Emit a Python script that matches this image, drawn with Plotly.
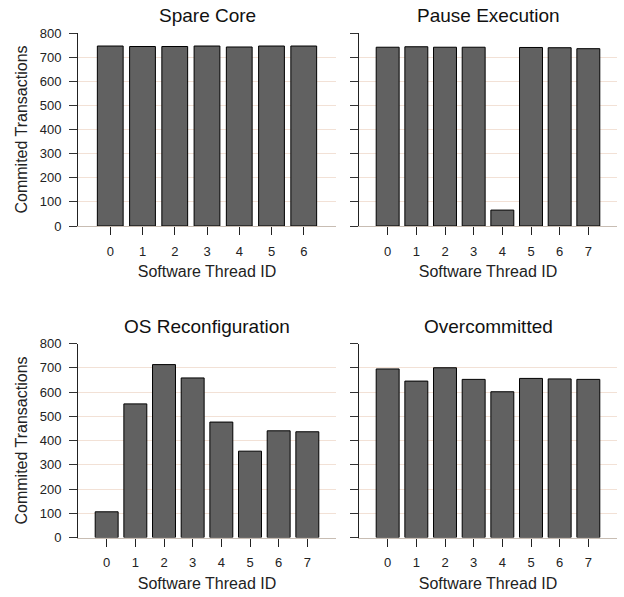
import plotly.graph_objects as go
from plotly.subplots import make_subplots

# ---- data ----
panel_titles = ["Spare Core", "Pause Execution", "OS Reconfiguration", "Overcommitted"]
threads_spare = [0, 1, 2, 3, 4, 5, 6]
threads_eight = [0, 1, 2, 3, 4, 5, 6, 7]
spare_core = [746, 744, 744, 746, 742, 746, 746]
pause_execution = [741, 743, 741, 741, 66, 740, 739, 735]
os_reconfiguration = [106, 551, 713, 658, 476, 356, 440, 436]
overcommitted = [695, 645, 700, 652, 601, 656, 654, 652]
y_ticks = [0, 100, 200, 300, 400, 500, 600, 700, 800]
x_title = "Software Thread ID"
y_title = "Commited Transactions"

FONT = "Liberation Sans, Arial, Helvetica, sans-serif"
BAR_FILL = "#616161"
GRID = "#f2e1d6"
BASE = "#c8bdb3"

W, H = 624, 597


def fx(px):
    return px / W


def fy(py):
    return 1 - py / H


fig = make_subplots(rows=2, cols=2)

series = [
    (threads_spare, spare_core, 1, 1),
    (threads_eight, pause_execution, 1, 2),
    (threads_eight, os_reconfiguration, 2, 1),
    (threads_eight, overcommitted, 2, 2),
]
for xs, ys, r, c in series:
    fig.add_trace(
        go.Bar(x=xs, y=ys, marker=dict(color=BAR_FILL, line=dict(color="black", width=1)),
               showlegend=False, hoverinfo="skip"),
        row=r, col=c,
    )

xdom_left = [fx(78), fx(336)]
xdom_right = [fx(359), fx(617)]
ydom_top = [fy(226), fy(33)]
ydom_bot = [fy(537.5), fy(343.5)]

axes = [
    ("xaxis", "yaxis", xdom_left, ydom_top, [-1, 7], threads_spare, True),
    ("xaxis2", "yaxis2", xdom_right, ydom_top, [-1, 8], threads_eight, False),
    ("xaxis3", "yaxis3", xdom_left, ydom_bot, [-1, 8], threads_eight, True),
    ("xaxis4", "yaxis4", xdom_right, ydom_bot, [-1, 8], threads_eight, False),
]
for xa, ya, xd, yd, xr, xt, show_y in axes:
    fig.layout[xa].update(
        domain=xd, range=xr, tickmode="array", tickvals=xt, ticktext=[str(v) for v in xt],
        showgrid=False, zeroline=False, showline=True, linecolor=BASE, linewidth=1,
        ticks="outside", ticklen=8, tickcolor="#222", tickwidth=1,
        ticklabelstandoff=5,
        tickfont=dict(family=FONT, size=13, color="#222"),
        title=dict(text=x_title, font=dict(family=FONT, size=16, color="#222"), standoff=8),
        automargin=False, fixedrange=True,
    )
    fig.layout[ya].update(
        domain=yd, range=[0, 800], tickmode="array", tickvals=y_ticks,
        ticktext=[str(v) for v in y_ticks], showticklabels=show_y,
        showgrid=True, gridcolor=GRID, gridwidth=1, zeroline=False,
        showline=True, linecolor="#222", linewidth=1,
        ticks="outside", ticklen=8, tickcolor="#333", tickwidth=1,
        ticklabelstandoff=5,
        tickfont=dict(family=FONT, size=13, color="#222"),
        automargin=False, fixedrange=True,
    )
    if show_y:
        fig.layout[ya].title = dict(text=y_title, font=dict(family=FONT, size=16, color="#222"),
                                    standoff=8)

title_pos = [
    (sum(xdom_left) / 2, ydom_top[1]),
    (sum(xdom_right) / 2, ydom_top[1]),
    (sum(xdom_left) / 2, ydom_bot[1]),
    (sum(xdom_right) / 2, ydom_bot[1]),
]
for t, (x, y) in zip(panel_titles, title_pos):
    fig.add_annotation(text=t, x=x, y=y, xref="paper", yref="paper", xanchor="center",
                       yanchor="bottom", yshift=6, borderpad=0, showarrow=False,
                       font=dict(family=FONT, size=19, color="#111"))

fig.update_layout(
    width=W, height=H, margin=dict(l=0, r=0, t=0, b=0, autoexpand=False),
    plot_bgcolor="white", paper_bgcolor="white", bargap=0.2,
    font=dict(family=FONT, color="#222"), hovermode=False,
)

fig.write_html(
    "out.html",
    config={"displayModeBar": False, "staticPlot": True},
    post_script="document.body.style.margin='0';document.body.style.overflow='hidden';",
)
